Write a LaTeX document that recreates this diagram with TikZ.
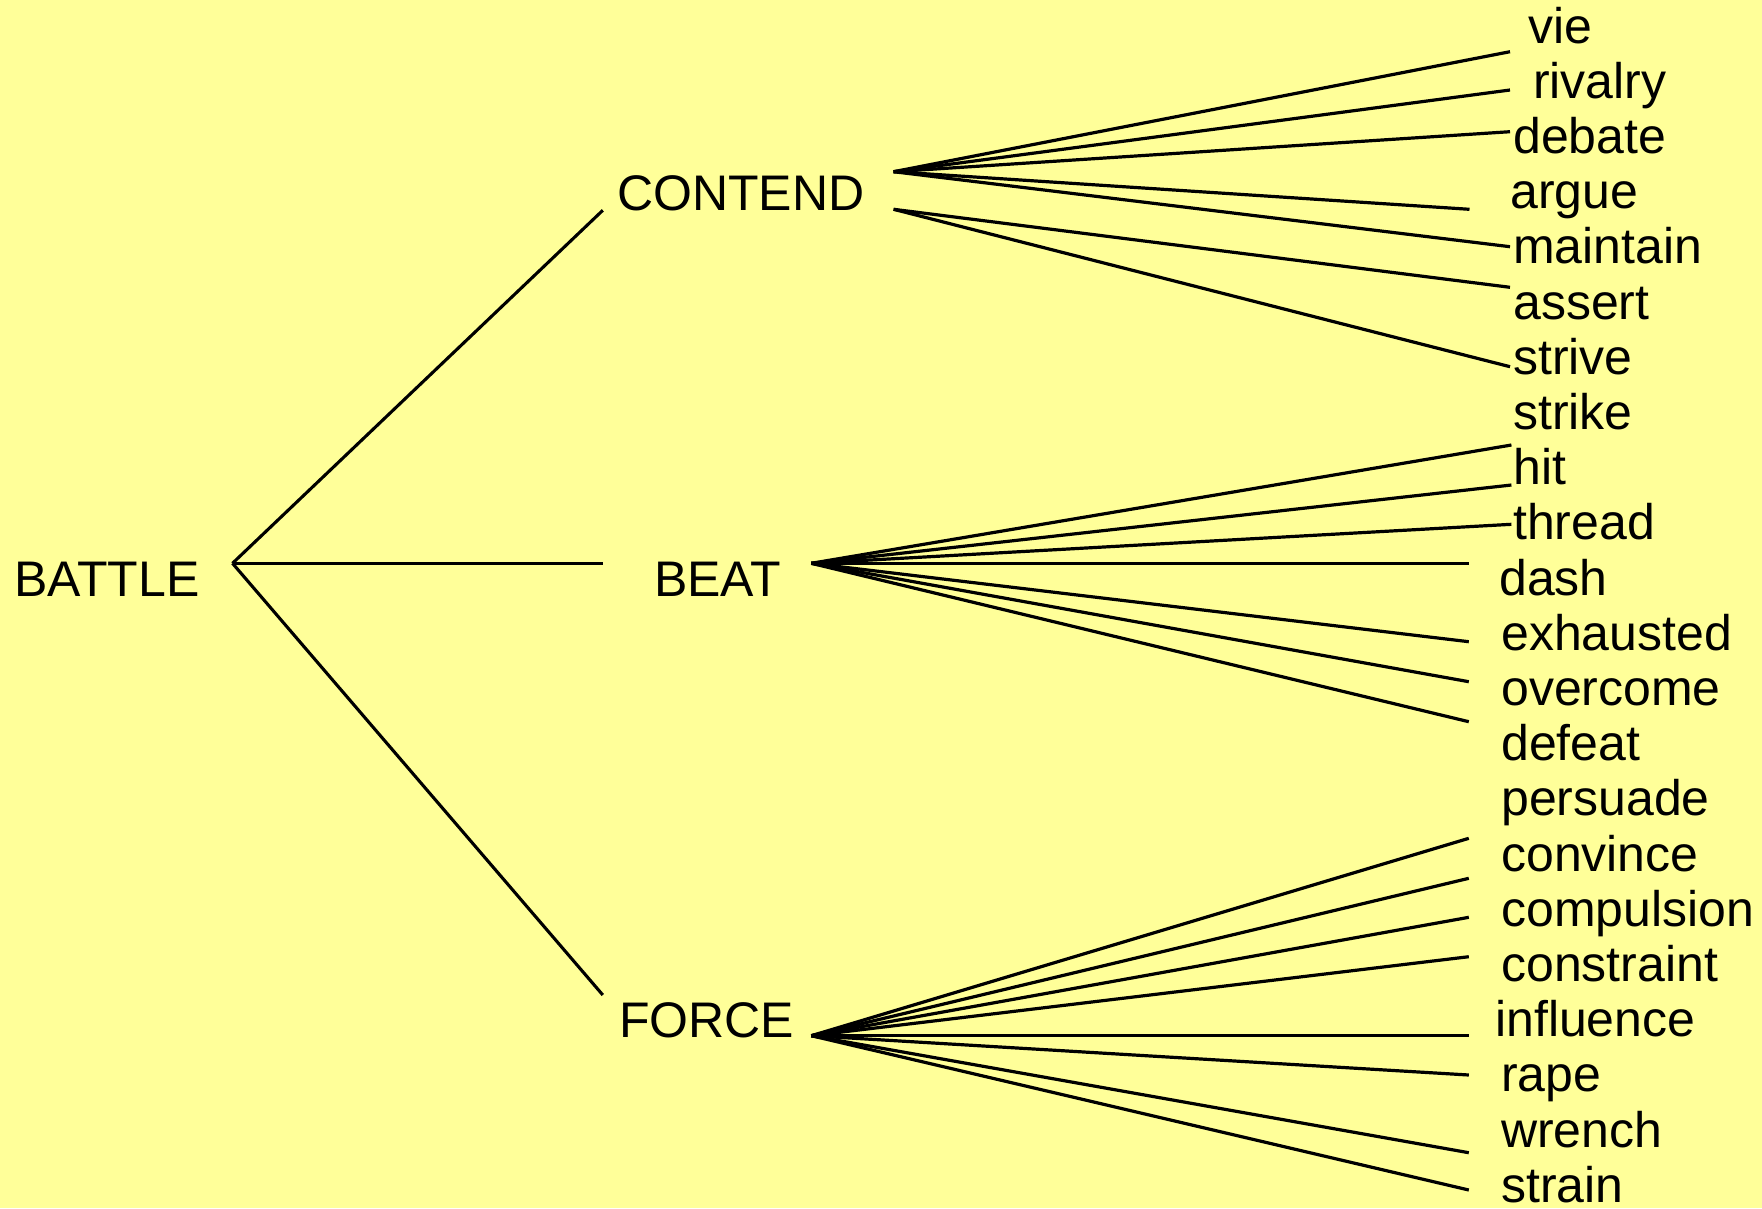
\documentclass[tikz,border=0pt]{standalone}
\usepackage{fontspec}
\setmainfont{Liberation Sans}
\definecolor{bg}{HTML}{FFFF99}
\begin{document}
\begin{tikzpicture}[x=1pt,y=-1pt,
  word/.style={anchor=base west, inner sep=0pt, font=\fontsize{50}{60}\selectfont},
  link/.style={line width=3.1pt},
  fan/.style={line width=3.2pt}]
\fill[bg] (0,0) rectangle (1762,1208);
\useasboundingbox (0,0) rectangle (1762,1208);
% main labels
\node[word] (battle) at (14,596.6) {BATTLE};
\node[word] (contend) at (617,210.3) {CONTEND};
\node[word] (beat) at (654,596.6) {BEAT};
\node[word] (force) at (619,1037) {FORCE};
% words
\node[word] (w0) at (1528,43) {vie};
\node[word] (w1) at (1533,98.2) {rivalry};
\node[word] (w2) at (1513,153.4) {debate};
\node[word] (w3) at (1510,208.6) {argue};
\node[word] (w4) at (1513,263.8) {maintain};
\node[word] (w5) at (1513,319) {assert};
\node[word] (w6) at (1513,374.2) {strive};
\node[word] (w7) at (1513,429.4) {strike};
\node[word] (w8) at (1513,484.6) {hit};
\node[word] (w9) at (1513,539.8) {thread};
\node[word] (w10) at (1499,595) {dash};
\node[word] (w11) at (1501,650.2) {exhausted};
\node[word] (w12) at (1501,705.4) {overcome};
\node[word] (w13) at (1501,760.6) {defeat};
\node[word] (w14) at (1501,815.8) {persuade};
\node[word] (w15) at (1501,871) {convince};
\node[word] (w16) at (1501,926.2) {compulsion};
\node[word] (w17) at (1501,981.4) {constraint};
\node[word] (w18) at (1495,1036.6) {influence};
\node[word] (w19) at (1501,1091.8) {rape};
\node[word] (w20) at (1501,1147) {wrench};
\node[word] (w21) at (1501,1202.2) {strain};
% connection points
\coordinate (root) at (232.5,563.3);
\coordinate (rc) at (602.8,210.3);
\coordinate (rb) at (602.8,563.3);
\coordinate (rf) at (602.8,995);
\coordinate (c1) at (893.6,171.7);
\coordinate (c2) at (893.6,209.3);
\coordinate (b0) at (811.3,563.3);
\coordinate (f0) at (811.3,1035.7);
% contend ends
\coordinate (ce0) at (1510,51.7);
\coordinate (ce1) at (1510,90);
\coordinate (ce2) at (1510,131.7);
\coordinate (ce3) at (1469.5,209.3);
\coordinate (ce4) at (1510,246.7);
\coordinate (ce5) at (1510,287.3);
\coordinate (ce6) at (1510,366.7);
% beat ends
\coordinate (be0) at (1511.4,445);
\coordinate (be1) at (1511.4,485);
\coordinate (be2) at (1511.4,524.3);
\coordinate (be3) at (1468.8,563.3);
\coordinate (be4) at (1468.8,641.7);
\coordinate (be5) at (1468.8,681.7);
\coordinate (be6) at (1468.8,721.7);
% force ends
\coordinate (fe0) at (1468.8,838.3);
\coordinate (fe1) at (1468.8,878.3);
\coordinate (fe2) at (1468.8,917.3);
\coordinate (fe3) at (1468.8,956.7);
\coordinate (fe4) at (1468.8,1035.7);
\coordinate (fe5) at (1468.8,1075);
\coordinate (fe6) at (1468.8,1152.7);
\coordinate (fe7) at (1468.8,1190);
% main branches
\draw[link] (root) -- (rc);
\draw[link] (root) -- (rb);
\draw[link] (root) -- (rf);
% fans
\foreach \e in {ce0,ce1,ce2,ce3,ce4} \draw[fan] (c1) -- (\e);
\foreach \e in {ce5,ce6} \draw[fan] (c2) -- (\e);
\foreach \e in {be0,be1,be2,be3,be4,be5,be6} \draw[fan] (b0) -- (\e);
\foreach \e in {fe0,fe1,fe2,fe3,fe4,fe5,fe6,fe7} \draw[fan] (f0) -- (\e);
\end{tikzpicture}
\end{document}
